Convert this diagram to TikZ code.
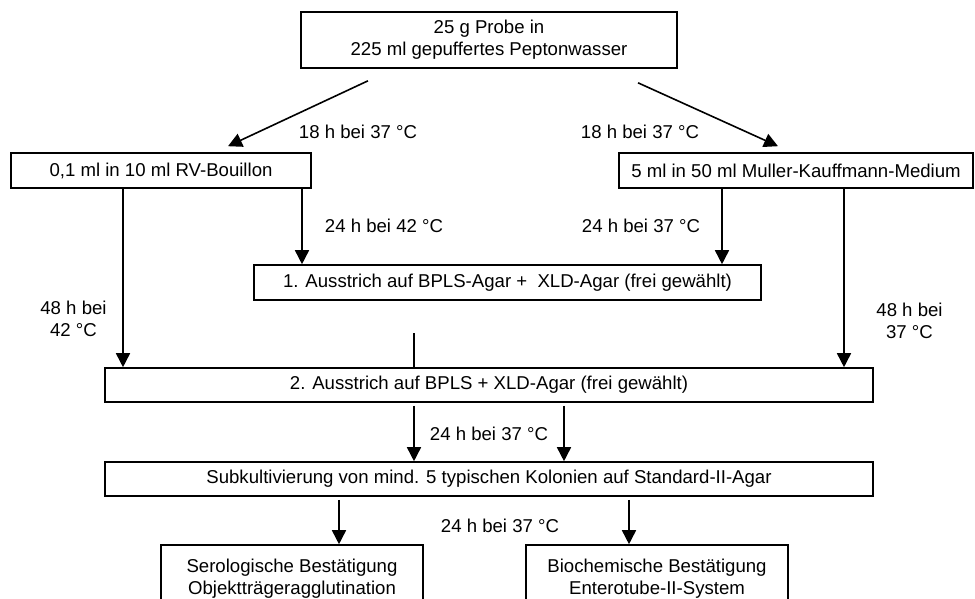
\documentclass[tikz,border=0pt]{standalone}
\usepackage{fontspec}
\setmainfont{Liberation Sans}
\usetikzlibrary{arrows.meta}
\begin{document}
\begin{tikzpicture}[x=1pt,y=-1pt,
  box/.style={draw,line width=1.6pt,inner sep=0pt,align=center,
    font=\fontsize{18.6}{22}\selectfont},
  lbl/.style={inner sep=0pt,align=center,font=\fontsize{18.6}{22}\selectfont},
  arr/.style={line width=1.6pt,-{Triangle[length=14pt,width=14pt]}},
  ln/.style={line width=1.6pt}]
\useasboundingbox (0,0) rectangle (975,598);
% boxes
\node[box,minimum width=376pt,minimum height=56pt] (top) at (489,40) {25 g Probe in\\225 ml gepuffertes Peptonwasser};
\node[box,minimum width=300pt,minimum height=35pt] (rv) at (161,170.5) {0,1 ml in 10 ml RV-Bouillon};
\node[box,minimum width=354pt,minimum height=35pt] (mk) at (796,170.5) {5 ml in 50 ml Muller-Kauffmann-Medium};
\node[box,minimum width=507pt,minimum height=35pt] (a1) at (507.5,282.5) {1. Ausstrich auf BPLS-Agar +\ \ XLD-Agar (frei gewählt)};
\node[box,minimum width=768pt,minimum height=34pt] (a2) at (489,385) {2. Ausstrich auf BPLS + XLD-Agar (frei gewählt)};
\node[box,minimum width=768pt,minimum height=34pt] (sub) at (489,479) {Subkultivierung von mind. 5 typischen Kolonien auf Standard-II-Agar};
\node[box,minimum width=262pt,minimum height=68pt] (sero) at (292,579) {Serologische Bestätigung\\Objektträgeragglutination};
\node[box,minimum width=262pt,minimum height=68pt] (bio) at (657,579) {Biochemische Bestätigung\\Enterotube-II-System};
% connectors
\draw[arr] ([xshift=-121pt,yshift=-12pt]top.south) -- ([xshift=67pt,yshift=6pt]rv.north);
\draw[arr] ([xshift=149pt,yshift=-14pt]top.south) -- ([xshift=-18pt,yshift=6pt]mk.north);
\draw[arr] (rv.south -| 123,0) -- (a2.north -| 123,0);
\draw[arr] (rv.south -| 302,0) -- (a1.north -| 302,0);
\draw[arr] (mk.south -| 722,0) -- (a1.north -| 722,0);
\draw[arr] (mk.south -| 844,0) -- (a2.north -| 844,0);
\coordinate (join) at (414,333);
\draw[ln] (join) -- (a2.north -| join);
\draw[arr] ([yshift=-3pt]a2.south -| 414,0) -- (sub.north -| 414,0);
\draw[arr] ([yshift=-3pt]a2.south -| 564,0) -- (sub.north -| 564,0);
\draw[arr] ([yshift=-3pt]sub.south -| 339,0) -- (sero.north -| 339,0);
\draw[arr] ([yshift=-3pt]sub.south -| 629,0) -- (bio.north -| 629,0);
% labels
\node[lbl] (l1) at (358,132) {18 h bei 37 °C};
\node[lbl] (l2) at (640,132) {18 h bei 37 °C};
\node[lbl] (l3) at (384,226) {24 h bei 42 °C};
\node[lbl] (l4) at (641,226) {24 h bei 37 °C};
\node[lbl] (l5) at (73.5,319) {48 h bei\\42 °C};
\node[lbl] (l6) at (909.5,321) {48 h bei\\37 °C};
\node[lbl] (l7) at (489,434) {24 h bei 37 °C};
\node[lbl] (l8) at (500,526) {24 h bei 37 °C};
\end{tikzpicture}
\end{document}
